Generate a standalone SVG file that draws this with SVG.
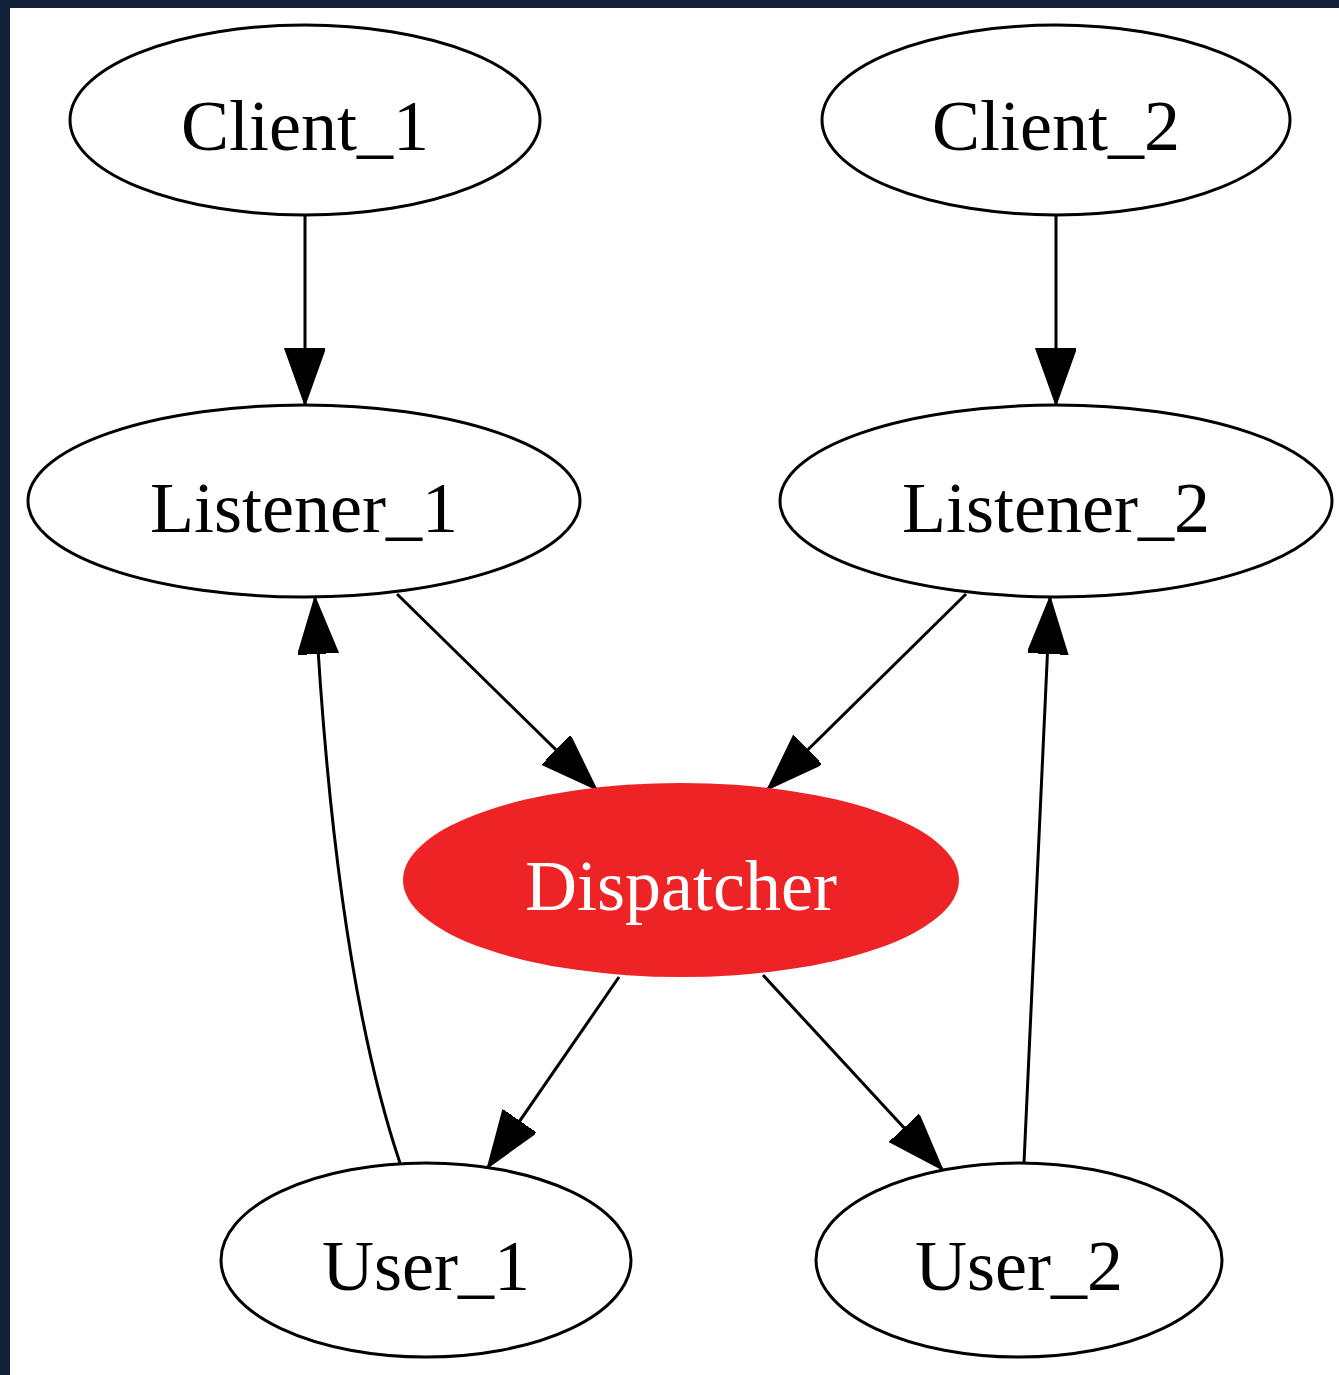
<svg xmlns="http://www.w3.org/2000/svg" width="1339" height="1375" viewBox="0 0 1339 1375">
  <style>
    .node ellipse { fill: #ffffff; stroke: #000000; stroke-width: 3; }
    .node text { font-family: "Liberation Serif", "Times New Roman", serif; font-size: 72px; text-anchor: middle; fill: #000000; }
    #dispatcher ellipse { fill: #ee2326; stroke: none; }
    #dispatcher text { fill: #ffffff; }
    .edges path { fill: none; stroke: #000000; stroke-width: 3; }
  </style>
  <defs>
    <marker id="arrow" markerUnits="userSpaceOnUse" markerWidth="58" markerHeight="42" refX="56" refY="20" orient="auto">
      <path d="M0,0 L56,20 L0,40 Z" fill="#000000" stroke="#000000" stroke-width="2"/>
    </marker>
  </defs>

  <!-- frame -->
  <rect x="0" y="0" width="1339" height="1375" fill="#12203a"/>
  <rect x="10" y="8" width="1329" height="1367" fill="#ffffff"/>

  <!-- connectors -->
  <g class="edges">
    <path d="M305,215 L305,404" marker-end="url(#arrow)"/>
    <path d="M1056,215 L1056,404" marker-end="url(#arrow)"/>
    <path d="M397,594 L596,789" marker-end="url(#arrow)"/>
    <path d="M966,594 L768,789" marker-end="url(#arrow)"/>
    <path d="M619,977 L488,1167" marker-end="url(#arrow)"/>
    <path d="M763,975 L942,1169" marker-end="url(#arrow)"/>
    <path d="M400,1163 C362,1050 330,880 315,598" marker-end="url(#arrow)"/>
    <path d="M1024,1163 C1032,980 1042,780 1050,598" marker-end="url(#arrow)"/>
  </g>

  <!-- nodes -->
  <g id="client_1" class="node">
    <ellipse cx="305" cy="120" rx="235" ry="95"/>
    <text x="305" y="150">Client_1</text>
  </g>
  <g id="client_2" class="node">
    <ellipse cx="1056" cy="120" rx="234" ry="95"/>
    <text x="1056" y="150">Client_2</text>
  </g>
  <g id="listener_1" class="node">
    <ellipse cx="304" cy="501" rx="276" ry="96"/>
    <text x="304" y="532">Listener_1</text>
  </g>
  <g id="listener_2" class="node">
    <ellipse cx="1056" cy="501" rx="276" ry="96"/>
    <text x="1056" y="532">Listener_2</text>
  </g>
  <g id="dispatcher" class="node">
    <ellipse cx="681" cy="880" rx="278" ry="97"/>
    <text x="681" y="910">Dispatcher</text>
  </g>
  <g id="user_1" class="node">
    <ellipse cx="426" cy="1260" rx="205" ry="97"/>
    <text x="426" y="1290">User_1</text>
  </g>
  <g id="user_2" class="node">
    <ellipse cx="1019" cy="1260" rx="203" ry="97"/>
    <text x="1019" y="1290">User_2</text>
  </g>
</svg>
